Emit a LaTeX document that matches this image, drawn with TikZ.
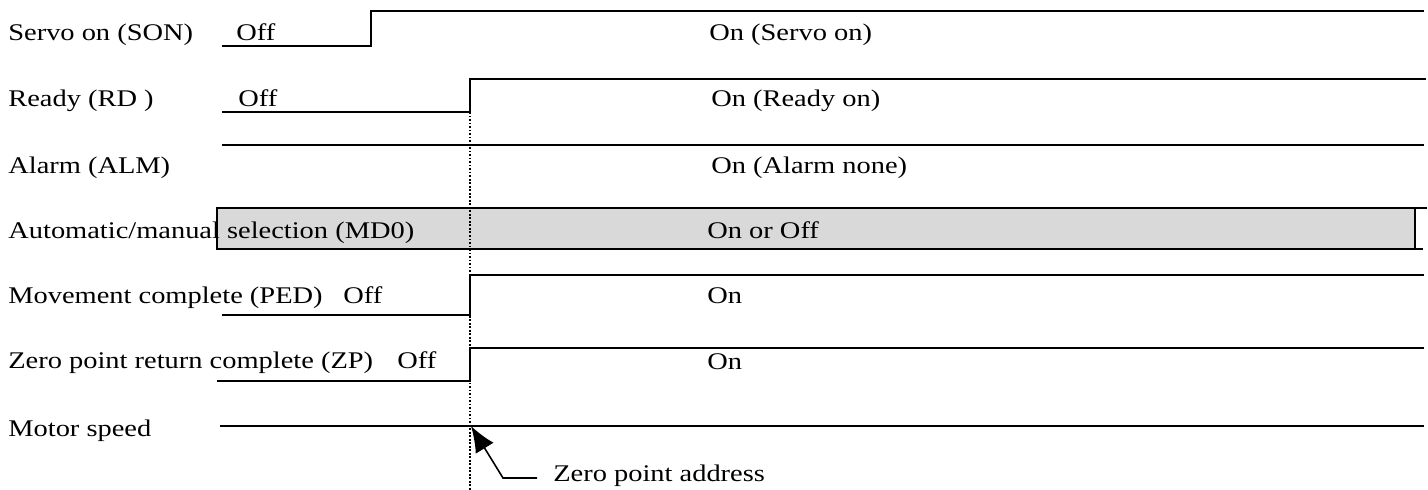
\documentclass[tikz,border=0pt]{standalone}
\usepackage{fontspec}
\setmainfont{Liberation Serif}[FakeStretch=1.19]
\usetikzlibrary{arrows.meta}
\begin{document}
\begin{tikzpicture}[x=0.02cm,y=-0.02cm,
  lbl/.style={anchor=base west,inner sep=0pt,font=\fontsize{13.6pt}{16pt}\selectfont},
  sig/.style={line width=1.45pt,line join=miter},
  guide/.style={line width=0.6pt,dash pattern=on 1pt off 1pt},
  leader/.style={line width=0.9pt,-{Latex[length=5.2mm,width=4.2mm]}}]
\useasboundingbox (0,0) rectangle (1428,490);
% MD0 shaded box
\draw[sig,fill=gray!30] (217,208) rectangle (1415,249);
\draw[sig] (1415,208) -- (1427,208);
\draw[sig] (1415,249) -- (1423,249);
% signals
\draw[sig] (222,46) -- (371,46) -- (371,11) -- (1424,11);
\draw[sig] (222,112) -- (470,112) -- (470,79) -- (1426,79);
\draw[sig] (222,145) -- (1424,145);
\draw[sig] (222,315) -- (470,315) -- (470,275) -- (1424,275);
\draw[sig] (217,381) -- (470,381) -- (470,348) -- (1424,348);
\draw[sig] (220,426) -- (1424,426);
% dotted guide
\draw[guide] (470,112) -- (470,490);
% labels
\node[lbl] (lson) at (8,40) {Servo on (SON)};
\node[lbl] (oson) at (236,40) {Off};
\node[lbl] (nson) at (709,40) {On (Servo on)};
\node[lbl] (lrd) at (8,106) {Ready (RD )};
\node[lbl] (ord) at (238,106) {Off};
\node[lbl] (nrd) at (711,106) {On (Ready on)};
\node[lbl] (lalm) at (8,173) {Alarm (ALM)};
\node[lbl] (nalm) at (711,173) {On (Alarm none)};
\node[lbl] (lmd) at (8,238) {Automatic/manual selection (MD0)};
\node[lbl] (nmd) at (707,238) {On or Off};
\node[lbl] (lped) at (8,303) {Movement complete (PED)};
\node[lbl] (oped) at (343,303) {Off};
\node[lbl] (nped) at (707,303) {On};
\node[lbl] (lzp) at (8,368) {Zero point return complete (ZP)};
\node[lbl] (ozp) at (397,368) {Off};
\node[lbl] (nzp) at (707,369) {On};
\node[lbl] (lmot) at (8,436) {Motor speed};
\node[lbl] (zpa) at (553,481) {Zero point address};
% leader arrow
\coordinate (tip) at (471,426);
\coordinate (bend) at (503,478);
\draw[leader] (537,478) coordinate (lstart) -- (bend) -- (tip);
\end{tikzpicture}
\end{document}
